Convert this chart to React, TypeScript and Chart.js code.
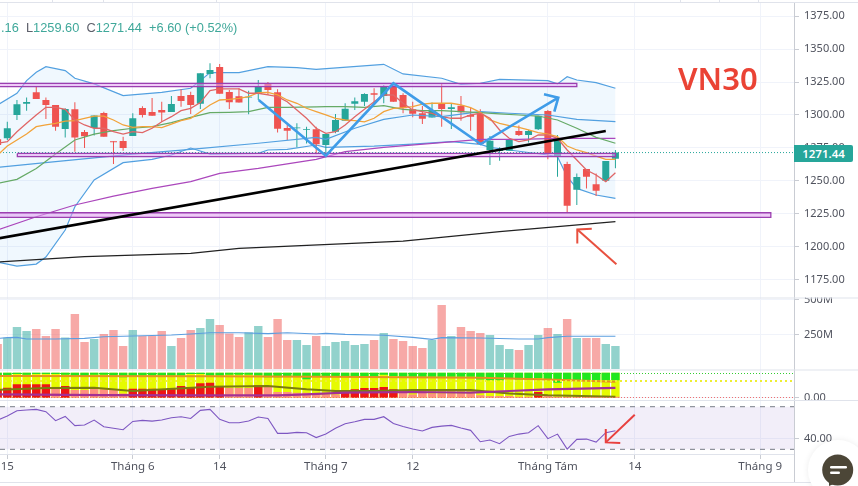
import React, { useEffect, useRef } from "react";
import { Chart, registerables } from "chart.js";
Chart.register(...registerables);

const firstBar = -1;
const highs = [1284.8,1294.9,1311.4,1313.2,1321.5,1313.2,1307.6,1305.1,1309.6,1288.6,1299.7,1302.5,1280.0,1283.5,1301.3,1306.6,1312.9,1310.1,1314.4,1319.5,1317.7,1331.7,1339.3,1338.8,1319.0,1320.3,1318.5,1326.6,1325.1,1319.5,1292.4,1293.7,1291.1,1291.1,1285.5,1300.8,1308.9,1313.2,1316.5,1320.3,1322.8,1324.1,1316.5,1310.1,1306.8,1309.4,1324.1,1308.9,1314.4,1305.8,1304.3,1284.0,1275.4,1281.5,1292.1,1288.6,1299.5,1303.8,1284.8,1264.5,1255.6,1259.0,1255.6,1265.0,1273.4];
const opens = [1281.5,1282.3,1300.0,1308.6,1317.2,1311.4,1307.6,1289.3,1304.3,1287.1,1290.1,1301.5,1280.0,1280.2,1284.0,1305.3,1302.3,1303.8,1302.3,1314.4,1315.2,1308.6,1331.2,1336.5,1317.5,1314.2,1313.2,1316.2,1324.1,1317.2,1290.1,1289.9,1288.8,1289.1,1277.2,1287.3,1295.7,1308.6,1310.1,1316.5,1314.4,1322.0,1315.2,1304.3,1301.3,1298.0,1308.3,1304.5,1307.1,1300.0,1300.8,1273.4,1272.6,1272.9,1287.8,1284.8,1289.1,1303.0,1268.3,1262.7,1243.2,1259.0,1247.3,1250.0,1266.8];
const closes = [1277.2,1289.9,1308.1,1309.9,1312.2,1307.6,1291.1,1304.5,1282.8,1283.8,1299.7,1283.5,1279.2,1274.9,1297.5,1300.0,1299.5,1301.8,1308.3,1310.6,1307.6,1331.7,1334.2,1316.2,1309.6,1309.4,1313.9,1321.8,1319.0,1289.6,1288.1,1290.4,1289.3,1277.7,1285.5,1296.2,1304.8,1310.4,1316.0,1315.4,1321.5,1310.1,1305.1,1301.0,1297.2,1303.3,1304.5,1305.8,1302.0,1298.7,1277.9,1280.5,1273.4,1281.0,1284.8,1287.8,1299.5,1270.8,1281.0,1231.0,1252.9,1253.1,1242.5,1265.0,1271.44];
const lows = [1275.9,1281.0,1296.2,1303.3,1312.2,1296.9,1288.1,1282.8,1272.1,1274.9,1284.5,1283.5,1262.7,1272.9,1284.0,1298.0,1299.5,1294.9,1302.3,1306.3,1300.7,1304.6,1327.9,1316.2,1304.6,1309.4,1300.5,1311.4,1315.2,1286.6,1281.0,1275.4,1278.4,1270.1,1269.6,1286.1,1295.7,1303.8,1306.8,1308.9,1308.9,1310.1,1301.3,1298.2,1293.1,1298.0,1291.1,1289.3,1295.7,1288.1,1277.2,1262.0,1265.3,1272.9,1284.0,1279.0,1288.6,1266.3,1253.1,1225.7,1231.6,1244.2,1238.4,1249.0,1259.6];
const volumes = [181,227,304,275,290,239,290,229,398,196,217,254,283,167,283,239,239,275,167,225,283,297,362,319,258,232,266,312,232,362,210,210,174,239,167,196,203,174,181,210,261,217,203,167,152,210,464,239,304,275,261,246,174,145,138,174,246,297,254,362,225,225,225,181,167];
const rsiValues = [57.5,61.2,66.2,66.9,67.5,65.3,56.9,60.9,52.2,52.8,57.5,51.2,49.7,48.4,56.2,57.2,56.5,57.5,59.7,60.6,59,66.6,67.5,58.1,55,55,56.5,60.3,59,45,45,45.9,45.6,41,44.3,49.7,54,55.9,58.1,58.1,60.6,54.3,51.5,49,47.2,50.6,51.8,52.5,50,47.8,37.1,38.7,35.3,42.1,44.3,45.6,52.2,40,44.3,30.2,39.3,39.6,36.8,45.6,47.5];
const maFast = [1278.5,1279.7,1287.3,1293.7,1300,1305.8,1305.8,1304.3,1296.2,1292.4,1289.9,1289.9,1287.3,1285.5,1287.3,1286.6,1289.9,1294.9,1298.7,1303.3,1305.1,1309.4,1318.5,1319.8,1319.8,1319.8,1316.5,1316.5,1315.2,1313.9,1310.1,1303.8,1297.5,1289.9,1286.1,1287.3,1292.4,1298.7,1304.3,1310.1,1315.2,1315.2,1308.9,1303.8,1302.5,1301.3,1298.7,1297.5,1297.5,1300,1301.3,1297.5,1288.6,1282.3,1279.7,1281,1284.8,1284.8,1282.3,1273.4,1265.8,1258.2,1254.4,1249.3,1256.1];
const maMid = [1269.6,1276.4,1281,1285.5,1291.1,1292.4,1293.7,1295.4,1295.7,1297.5,1299.2,1299.2,1296.2,1292.4,1290.6,1291.1,1291.1,1290.4,1293.1,1295.7,1297.5,1302.5,1307.6,1311.4,1311.9,1312.7,1313.9,1317,1317.2,1315.2,1311.4,1308.9,1305.1,1302.5,1300,1297.5,1296.2,1295.7,1294.7,1297.5,1302.5,1305.1,1305.6,1306.3,1308.3,1308.9,1308.9,1308.9,1307.6,1305.6,1302,1296.2,1293.7,1291.9,1290.6,1288.6,1286.6,1285.5,1283.5,1276.4,1273.4,1271.4,1268.8,1266.3,1266.3];

const maSlowBars = [-1,1,3,5,7,9,11,13,15,17,19,21,23,25,27,29,32,33,35,37,39,41,43,45,47,49,51,53,55,57,59,61,63];
const maSlow = [1248,1251.1,1259.4,1270.3,1281,1285.5,1288.1,1289.9,1291.1,1294.2,1298.2,1301.8,1302,1302.5,1305.8,1305.8,1306.1,1306.3,1306.3,1305.8,1307.1,1304.3,1303.3,1303.3,1302.5,1301.8,1300.8,1300,1299.2,1296.2,1289.9,1283,1278.5];
const ma100Bars = [-1,3,7,11,15,19,22,26,32,35,39,45,49,53,57,63];
const ma100 = [1212.6,1222.7,1231.6,1238.4,1244.2,1249.3,1255.6,1259.4,1266.3,1272.1,1275.4,1279,1281.5,1281.5,1282.3,1282.3];
const ma200Bars = [-1,8,19,24,41,51,63];
const ma200 = [1188.3,1192.3,1194.9,1198.7,1204.2,1211.3,1218.9];
const bbUpperBars = [-1,1,2,3,4,6,7,9,12,16,19,20,21,24,27,30,32,39,41,45,47,49,51,56,57,58,59,61,63];
const bbUpper = [1307.6,1316.5,1326.1,1332.4,1336.7,1333.7,1327.9,1323.6,1314.7,1317.2,1320.3,1326.1,1332.2,1332.2,1336.7,1336,1334.7,1338.5,1331.2,1327.9,1323.3,1324.1,1327.1,1326.1,1323.6,1329.1,1326.6,1324.6,1320.3];
const bbLowerBars = [-1,1,3,4,6,7,9,12,15,17,19,21,26,27,29,32,33,38,42,46,49,50,52,56,57,58,59,61,63];
const bbLower = [1188.2,1185.2,1186.7,1192,1212.6,1230.3,1250.6,1263.8,1266.3,1269.6,1274.9,1270.3,1270.8,1273.4,1273.9,1277.2,1275.4,1276.4,1277.9,1279.7,1277.7,1275.4,1273.4,1269.6,1268.3,1253.1,1244.2,1239.2,1236.6];
const bbBasisBars = [-1,5,13,19,26,32,33,36,39,42,45,49,52,56,59,63];
const bbBasis = [1260.2,1264.5,1270.3,1273.9,1278.5,1283,1281.5,1289.9,1296.7,1300,1298.7,1302.5,1301.3,1300,1296.7,1294.9];
const volMaBars = [-1,0,1,2,5,8,10,13,17,19,21,24,27,29,32,33,35,39,42,44,45,49,53,55,56,58,63];
const volMa = [222,227,229,217,217,222,234,239,246,254,263,263,256,263,254,258,251,244,229,215,227,225,217,217,227,237,237];

const oscGreen = [92,92,98,95,98,98,98,95,90,90,95,95,92,84,90,92,92,92,92,92,98,98,92,92,95,95,95,92,84,84,87,87,76,90,87,87,87,87,87,87,95,90,87,87,87,87,87,87,87,87,75,72,72,80,75,76,80,76,62,75,72,72,72,72,72];
const oscRed = [31,41,55,55,55,55,41,48,31,31,41,34,31,17,37,37,37,34,40,48,44,59,62,48,40,40,40,51,45,23,23,20,20,13,13,13,31,34,40,40,44,34,23,13,20,17,17,17,17,17,9,6,6,6,3.5,3.5,23,6,3.5,3.5,3.5,3.5,3.5,3.5,3.5];
const oscStrong = [1,1,1,1,1,1,0,1,0,0,0,0,0,0,1,1,1,1,1,1,1,1,1,1,0,0,0,1,0,0,0,0,0,0,0,0,1,1,1,1,1,1,0,0,0,0,0,0,0,0,0,0,0,0,0,0,1,0,0,0,0,0,0,0,0];
const oscOrangeBars = [-1,21,33,49,56,63];
const oscOrange = [90,89,86,82,75,66];
const oscOliveBars = [-1,4,9,13,21,27,31,34,38,42,48,52,56,63];
const oscOlive = [32,40,41,27,45,48,34,27,27,31,31,17,9,3.5];
const oscPurpleBars = [-1,10,21,28,31,35,42,48,52,56,63];
const oscPurple = [13,10,9,9,13,20,23,20,27,34,40];

const priceTicks = [1175,1200,1225,1250,1275,1300,1325,1350,1375];
const volumeTicks = [250,500];
const oscTicks = [0];
const rsiTicks = [40];
const xTickBars = [0,13,22,33,42,56,65,78];
const xTickLabels = ["15","Tháng 6","14","Tháng 7","12","Tháng Tám","14","Tháng 9"];

const lastPrice = 1271.44;
const trendBars = [-1,62];
const trendLine = [1206.1,1287.8];
const zigzagBars = [26.04,33,40,49.04,57.08];
const zigzag = [1311.4,1269.1,1324.06,1277.9,1313.2];
const zigzagHeadBars = [55.6,57.08,56.67];
const zigzagHead = [1315.7,1313.2,1302.5];
const priceArrowBars = [63.1,59.05];
const priceArrow = [1186.5,1213];
const priceArrowHeadBars = [60.55,59.05,59.05];
const priceArrowHead = [1213.5,1213,1202.4];
const rsiArrowBars = [65,62];
const rsiArrow = [62.5,36.5];
const rsiArrowHeadBars = [62,62,63.5];
const rsiArrowHead = [49,36.5,36];

const FONT = "'Noto Sans', sans-serif";
const TEAL = "#26a69a";
const RED = "#ef5350";
const GRID = "#f0f3fa";
const AXIS = "#c9ccd3";
const SEP = "#e0e3eb";

const barX = (i: number) => i + firstBar;
const xMin = -0.756;
const xMax = 81.5;

function App() {
  const ref = useRef<HTMLCanvasElement | null>(null);
  useEffect(() => {
    if (!ref.current) return;
    const line = (xs: number[], ys: number[], color: string, width: number, axis: string, extra: any = {}) => ({
      type: "line",
      data: xs.map((x, i) => ({ x, y: ys[i] })),
      borderColor: color,
      borderWidth: width,
      pointRadius: 0,
      tension: 0,
      fill: false,
      xAxisID: "x",
      yAxisID: axis,
      ...extra,
    });
    const seq = (ys: number[]) => ys.map((_, i) => barX(i));
    const bar = (ys: any[], colors: any, thickness: number, axis: string) => ({
      type: "bar",
      data: ys.map((y, i) => ({ x: barX(i), y })),
      backgroundColor: colors,
      borderWidth: 0,
      barThickness: thickness,
      grouped: false,
      inflateAmount: 0,
      xAxisID: "x",
      yAxisID: axis,
    });
    const zone = (x0: number, x1: number, top: number, bottom: number) => [
      line([x0, x1], [top, top], "rgba(0,0,0,0)", 0, "yP", { fill: "+1", backgroundColor: "rgba(225,160,240,0.55)" }),
      line([x0, x1], [bottom, bottom], "rgba(0,0,0,0)", 0, "yP"),
      line([x0, x1, x1, x0, x0], [top, top, bottom, bottom, top], "#9c3fb0", 1.3, "yP"),
    ];
    const isUp = opens.map((o, i) => closes[i] >= o);
    const candleColor = isUp.map((u) => (u ? TEAL : RED));
    const volColor = isUp.map((u) => (u ? "rgba(38,166,154,0.5)" : "rgba(239,83,80,0.5)"));
    const span = [xMin, xMax];
    const painted: any[] = [
      // price pane
      line(bbUpperBars, bbUpper, "#52a0e0", 1.2, "yP", { fill: "+1", backgroundColor: "rgba(33,150,243,0.065)" }),
      line(bbLowerBars, bbLower, "#52a0e0", 1.2, "yP"),
      line(span, [lastPrice, lastPrice], TEAL, 1, "yP", { borderDash: [1, 2] }),
      bar(lows.map((l, i) => [l, highs[i]]), candleColor, 1, "yP"),
      bar(opens.map((o, i) => [o, closes[i]]), candleColor, 7, "yP"),
      line(bbBasisBars, bbBasis, "#52a0e0", 1.2, "yP"),
      line(ma100Bars, ma100, "#ab47bc", 1.2, "yP"),
      line(ma200Bars, ma200, "#222222", 1.2, "yP"),
      line(maSlowBars, maSlow, "#66aa66", 1.2, "yP"),
      line(seq(maMid), maMid, "#f2a33a", 1.3, "yP"),
      line(seq(maFast), maFast, "#e06666", 1.3, "yP"),
      ...zone(xMin - 1, 59, 1324.06, 1321.5),
      ...zone(1.04, 63, 1270.8, 1268.3),
      ...zone(xMin - 1, 79.1, 1225.7, 1222.2),
      line(trendBars, trendLine, "#000000", 2.6, "yP"),
      line(zigzagBars, zigzag, "#3f9ce8", 2.6, "yP"),
      line(zigzagHeadBars, zigzagHead, "#3f9ce8", 2.6, "yP"),
      line(priceArrowBars, priceArrow, "#e8503f", 2, "yP"),
      line(priceArrowHeadBars, priceArrowHead, "#e8503f", 2, "yP"),
      // volume pane
      bar(volumes, volColor, 8.4, "yV"),
      line(volMaBars, volMa, "#5b9ee0", 1.1, "yV"),
      // oscillator pane
      bar(oscRed.map(() => [-1.5, 103]), "#e6fb00", 8.4, "yO"),
      bar(oscGreen.map((g) => [g, 103]), "#1fe81f", 8.4, "yO"),
      bar(oscRed.map((r) => [-1.5, r]), oscStrong.map((s) => (s ? "#ee1515" : "#ff9080")), 8.4, "yO"),
      line(oscOrangeBars, oscOrange, "#e8921f", 2, "yO"),
      line(oscOliveBars, oscOlive, "#7c7c10", 2, "yO"),
      line(oscPurpleBars, oscPurple, "#a33095", 2.2, "yO"),
      line(span, [100, 100], "#33cc33", 1, "yO", { borderDash: [1, 2] }),
      line(span, [68.75, 68.75], "#eeee33", 2, "yO", { borderDash: [2, 3] }),
      line(span, [0, 0], "#ef7070", 1, "yO", { borderDash: [1, 2] }),
      // rsi pane
      line(span, [70, 70], "#787b86", 1, "yR", { borderDash: [5, 5], fill: "+1", backgroundColor: "rgba(126,87,194,0.1)" }),
      line(span, [30, 30], "#787b86", 1, "yR", { borderDash: [5, 5] }),
      line(seq(rsiValues), rsiValues, "#7e57c2", 1.1, "yR"),
      line(rsiArrowBars, rsiArrow, "#e8403f", 2, "yR"),
      line(rsiArrowHeadBars, rsiArrowHead, "#e8403f", 2, "yR"),
    ].map((d, i, all) => ({ ...d, order: all.length - i }));

    const yAxis = (ticks: number[], min: number, max: number, weight: number, stackWeight: number, label: (v: number) => string) => ({
      type: "linear",
      position: "right",
      stack: "panes",
      stackWeight,
      weight,
      min,
      max,
      border: { display: true, color: AXIS },
      grid: { color: GRID, tickColor: AXIS, tickLength: 5 },
      ticks: {
        autoSkip: false,
        padding: 5,
        color: "#50535e",
        font: { family: FONT, size: 11 },
        callback: (v: any) => label(Number(v)),
      },
      afterBuildTicks: (s: any) => {
        s.ticks = ticks.map((value) => ({ value }));
      },
      afterFit: (s: any) => {
        s.width = 64;
        s.paddingTop = 0;
        s.paddingBottom = 0;
      },
    });

    const paneChrome = {
      id: "paneChrome",
      afterDraw(c: any) {
        const ctx = c.ctx;
        const right = c.chartArea.right;
        const h = (y: number, x1: number) => {
          ctx.fillStyle = SEP;
          ctx.fillRect(0, y, x1, 1);
        };
        ctx.save();
        const top = c.scales.yV.top;
        const oscTop = c.scales.yO.top;
        const rsiTop = c.scales.yR.top;
        const plotBottom = c.chartArea.bottom;
        ctx.fillStyle = "#ffffff";
        ctx.fillRect(right + 1, top - 9, 858 - right, 9);
        ctx.fillRect(right + 1, rsiTop, 858 - right, 6);
        h(c.chartArea.top - 1, 858);
        h(top, 858);
        h(oscTop, 858);
        h(rsiTop, 858);
        h(plotBottom, right);
        h(482, 858);
        ctx.fillStyle = AXIS;
        ctx.fillRect(right, plotBottom, 1, 482 - plotBottom);
        ctx.restore();
      },
    };

    const chart = new Chart(ref.current, {
      type: "line",
      data: { datasets: painted },
      plugins: [paneChrome],
      options: {
        animation: false,
        responsive: false,
        events: [],
        layout: { padding: { top: 3, bottom: 4, left: 0, right: 0 } },
        plugins: { legend: { display: false }, tooltip: { enabled: false } },
        scales: {
          x: {
            type: "linear",
            position: "bottom",
            offset: false,
            min: xMin,
            max: xMax,
            border: { display: false },
            grid: { color: GRID, tickColor: AXIS, tickLength: 5, offset: false },
            ticks: {
              autoSkip: false,
              maxRotation: 0,
              padding: 1,
              color: "#50535e",
              font: { family: FONT, size: 11.5 },
              callback: (v: any) => {
                const i = xTickBars.indexOf(Number(v));
                return i >= 0 ? xTickLabels[i] : "";
              },
            },
            afterBuildTicks: (s: any) => {
              s.ticks = xTickBars.map((value) => ({ value }));
            },
            afterFit: (s: any) => {
              s.height = 28;
              s.paddingLeft = 0;
              s.paddingRight = 0;
            },
          },
          yP: yAxis(priceTicks, 1161.3, 1385.1, 1, 294.5, (v) => v.toFixed(2)),
          yV: yAxis(volumeTicks, -3.6, 518, 2, 72, (v) => `${v}M`),
          yO: yAxis(oscTicks, -10.4, 116.7, 3, 30.5, (v) => v.toFixed(2)),
          yR: yAxis(rsiTicks, 25.6, 76.3, 4, 54, (v) => v.toFixed(2)),
        },
      } as any,
    } as any);
    return () => chart.destroy();
  }, []);

  const teal = { color: "#3fa89a" };
  const gray = { color: "#5d606b" };
  return (
    <div style={{ position: "absolute", left: 0, top: 0, width: 858, height: 486, overflow: "hidden", background: "#fff" }}>
      <canvas ref={ref} width={858} height={486} style={{ display: "block" }} />
      {[52, 103, 216, 680, 719, 758].map((x) => (
        <div key={x} style={{ position: "absolute", left: x, top: 0, width: 1, height: 2, background: SEP }} />
      ))}
      <div style={{ position: "absolute", left: 1, top: 20, fontFamily: "'Liberation Sans', sans-serif", fontSize: 12.8, lineHeight: "16px", whiteSpace: "pre" }}>
        <span style={teal}>.16 </span>
        <span style={gray}> L</span>
        <span style={teal}>1259.60 </span>
        <span style={gray}> C</span>
        <span style={teal}>1271.44 </span>
        <span style={teal}> +6.60 (+0.52%)</span>
      </div>
      <div style={{ position: "absolute", left: 678, top: 58, fontFamily: FONT, fontWeight: 600, fontSize: 31, lineHeight: "40px", color: "#ea4335" }}>VN30</div>
      <div style={{ position: "absolute", left: 794, top: 145, width: 59, height: 17, background: TEAL, borderRadius: "0 2px 2px 0", color: "#fff", fontFamily: FONT, fontWeight: 600, fontSize: 11.5, lineHeight: "17px", textAlign: "center" }}>1271.44</div>
      <div style={{ position: "absolute", left: 808, top: 440, width: 60, height: 60, borderRadius: "50%", background: "#fff", boxShadow: "0 0 6px rgba(0,0,0,0.08)" }} />
      <svg style={{ position: "absolute", left: 820, top: 452 }} width={38} height={34} viewBox="0 0 38 34">
        <circle cx={17.7} cy={18} r={15.5} fill="#4c4637" />
        <path d="M9 29 L9 34 L16 31 Z" fill="#4c4637" />
        <rect x={10} y={14} width={17} height={2.6} rx={1.3} fill="#fff" />
        <rect x={10} y={19.5} width={10} height={2.6} rx={1.3} fill="#fff" />
      </svg>
    </div>
  );
}

export default App;
